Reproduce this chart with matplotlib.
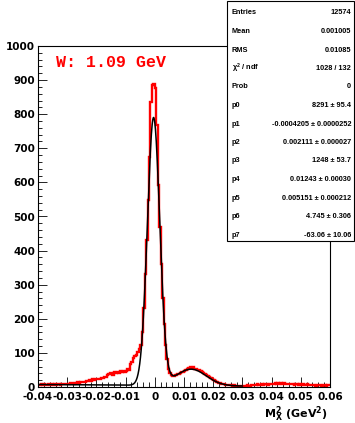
import numpy as np
import matplotlib
matplotlib.use("Agg")
import matplotlib.pyplot as plt
from matplotlib.patches import Rectangle
from matplotlib.ticker import FixedLocator, MultipleLocator

plt.rcParams['axes.unicode_minus'] = False
plt.rcParams['mathtext.fontset'] = 'dejavusans'
plt.rcParams['mathtext.default'] = 'bf'

# ---------------- data ----------------
bin_lo, bin_hi, n_bins = -0.04, 0.06, 200
counts = [
    7, 6, 8, 7, 9, 6, 7, 8, 6, 9, 7, 8, 6, 9, 8, 7, 9, 8, 10, 9,
    10, 9, 11, 12, 10, 13, 12, 14, 13, 15,
    14, 16, 15, 18, 17, 20, 19, 22, 21, 24,
    22, 24, 23, 26, 25, 28, 30, 34, 38, 42,
    40, 36, 44, 41, 45, 42, 46, 43, 47, 45,
    48, 52, 50, 68, 74, 84, 92, 95, 104, 112,
    122, 160, 232, 330, 432, 548, 675, 836, 885, 889,
    876, 768, 592, 468, 362, 262, 186, 122, 82, 54,
    40, 34, 32, 33, 35, 38, 37, 42, 45, 44,
    48, 50, 53, 56, 59, 55, 58, 52, 54, 50,
    51, 47, 45, 41, 38, 35, 31, 29, 25, 22,
    20, 17, 15, 13, 12, 10, 9, 8, 7, 6,
    6, 5, 5, 4, 5, 3, 4, 3, 4, 3,
    3, 4, 3, 5, 4, 4,
    6, 5, 7, 6, 8, 7, 6, 8, 7, 9, 8, 7, 9, 8,
    10, 9, 11, 10, 12, 9, 11, 10, 12, 9, 10, 8, 9, 10,
    8, 7, 9, 8, 6, 8, 7, 9, 6, 7, 8, 6, 7, 6,
    5, 6, 4, 5, 6, 5, 4, 6, 5, 4, 5, 6,
]
# fit parameters (two gaussians + linear background), fit range
fit_params = [8291, -0.0004205, 0.002111, 1248, 0.01243, 0.005151, 4.745, -63.06]
fit_range = [-0.04, 0.03]

x_ticks = [-0.04, -0.03, -0.02, -0.01, 0.0, 0.01, 0.02, 0.03, 0.04, 0.05, 0.06]
x_tick_labels = ["-0.04", "-0.03", "-0.02", "-0.01", "0", "0.01", "0.02",
                 "0.03", "0.04", "0.05", "0.06"]
y_ticks = [0, 100, 200, 300, 400, 500, 600, 700, 800, 900, 1000]
y_tick_labels = ["0", "100", "200", "300", "400", "500", "600", "700",
                 "800", "900", "1000"]

stat_labels = ["Entries", "Mean", "RMS", r"$\mathregular{\chi^{2}}$ / ndf", "Prob",
               "p0", "p1", "p2", "p3", "p4", "p5", "p6", "p7"]
stat_values = ["12574", "0.001005", "0.01085", "1028 / 132", "0",
               "8291 ± 95.4", "-0.0004205 ± 0.0000252", "0.002111 ± 0.000027",
               "1248 ± 53.7", "0.01243 ± 0.00030", "0.005151 ± 0.000212",
               "4.745 ± 0.306", "-63.06 ± 10.06"]

title_text = "W: 1.09 GeV"
xlabel_text = r"$\mathbf{M_{X}^{2}}$ (GeV$^{\mathbf{2}}$)"

# ---------------- figure ----------------
W, H = 355, 423
fig = plt.figure(figsize=(W / 100, H / 100), dpi=100)
fig.patch.set_facecolor('white')
ax = fig.add_axes([38 / W, (H - 387) / H, (330 - 38) / W, (387 - 46) / H])

edges = np.linspace(bin_lo, bin_hi, n_bins + 1)
bw = edges[1] - edges[0]
ax.stairs(counts, edges, color='red', lw=1.7, baseline=None, zorder=2)

p = fit_params
xf = np.linspace(fit_range[0], fit_range[1], 1000)
norm = bw / np.sqrt(2 * np.pi)
yf = (p[0] * norm / p[2] * np.exp(-0.5 * ((xf - p[1]) / p[2]) ** 2)
      + p[3] * norm / p[5] * np.exp(-0.5 * ((xf - p[4]) / p[5]) ** 2)
      + p[6] + p[7] * xf)
ax.plot(xf, yf, color='black', lw=1.1, zorder=3)

ax.set_xlim(bin_lo, bin_hi)
ax.set_ylim(0, 1000)
ax.xaxis.set_major_locator(FixedLocator(x_ticks))
ax.set_xticklabels(x_tick_labels)
ax.xaxis.set_minor_locator(MultipleLocator(0.002))
ax.yaxis.set_major_locator(FixedLocator(y_ticks))
ax.set_yticklabels(y_tick_labels)
ax.yaxis.set_minor_locator(MultipleLocator(20))

ax.tick_params(axis='x', which='major', direction='in', length=7.2, width=0.6,
               labelsize=7.5, pad=3.5, top=False)
ax.tick_params(axis='x', which='minor', direction='in', length=3.6, width=0.6, top=False)
ax.tick_params(axis='y', which='major', direction='in', length=6.3, width=0.6,
               labelsize=7.5, pad=2, right=False)
ax.tick_params(axis='y', which='minor', direction='in', length=3.1, width=0.6, right=False)
for lab in ax.get_xticklabels() + ax.get_yticklabels():
    lab.set_fontweight('bold')
    lab.set_family('DejaVu Sans')
for s in ax.spines.values():
    s.set_linewidth(0.8)

# title text
fig.text(56 / W, 1 - 67 / H, title_text, color='red', family='Liberation Mono',
         fontweight='bold', fontsize=12, va='baseline', ha='left')

# x label
fig.text(328 / W, 1 - 418 / H, xlabel_text, fontsize=8, fontweight='bold',
         family='DejaVu Sans', ha='right', va='baseline')

# stats box
box = Rectangle((227 / W, 1 - 241 / H), (354 - 227) / W, (241 - 1) / H,
                transform=fig.transFigure, facecolor='white', edgecolor='black',
                lw=0.8, zorder=10)
fig.patches.append(box)
for i, (lab, val) in enumerate(zip(stat_labels, stat_values)):
    yy = 1 - (13 + 18.5 * i) / H
    fig.text(232 / W, yy, lab, fontsize=5.3, fontweight='bold', family='Liberation Sans',
             ha='left', va='center', zorder=11)
    fig.text(351 / W, yy, val, fontsize=5.3, fontweight='bold', family='Liberation Sans',
             ha='right', va='center', zorder=11)

fig.savefig("out.png", dpi=100, facecolor='white')
